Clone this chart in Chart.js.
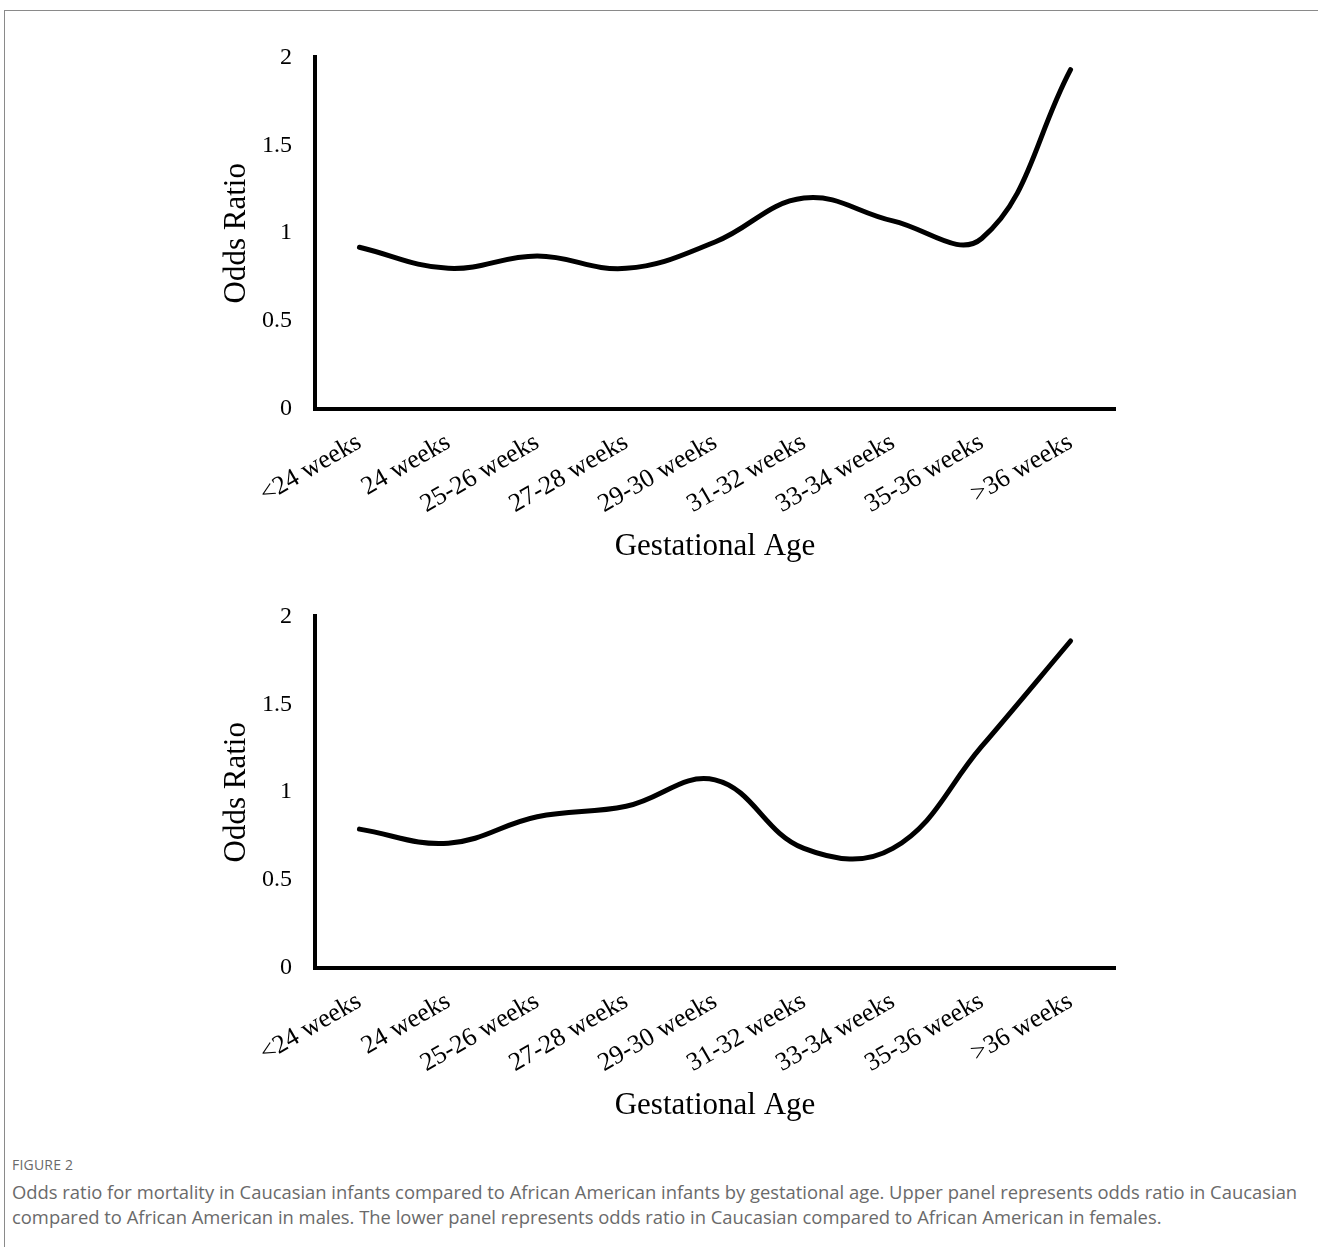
<!DOCTYPE html>
<html>
<head>
<meta charset="utf-8">
<script src="https://cdn.jsdelivr.net/npm/chart.js@4.4.1/dist/chart.umd.min.js"></script>
<style>
  body { margin: 0; background: #fff; width: 1318px; height: 1247px; overflow: hidden; position: relative; }
  .frame { position: absolute; left: 4px; top: 10px; width: 1330px; height: 1260px; border: 1px solid #8a8a8a; box-sizing: border-box; }
  .panel { position: absolute; left: 0; width: 1318px; height: 545px; }
  #top { top: 20px; }
  #bottom { top: 579px; }
  .caption { position: absolute; left: 12px; top: 1155px; font-family: "Open Sans", sans-serif; color: #6a6a6a; white-space: nowrap; }
  .caption .fig { font-size: 14px; letter-spacing: 0.2px; margin-bottom: 5px; }
  .caption .txt { font-size: 18.4px; line-height: 25px; }
</style>
</head>
<body>
<div class="frame"></div>
<div class="panel" id="top"><canvas id="maleChart"></canvas></div>
<div class="panel" id="bottom"><canvas id="femaleChart"></canvas></div>
<div class="caption">
  <div class="fig">FIGURE 2</div>
  <div class="txt">Odds ratio for mortality in Caucasian infants compared to African American infants by gestational age. Upper panel represents odds ratio in Caucasian<br>compared to African American in males. The lower panel represents odds ratio in Caucasian compared to African American in females.</div>
</div>
<script>
const ageGroups = ['<24 weeks', '24 weeks', '25-26 weeks', '27-28 weeks', '29-30 weeks', '31-32 weeks', '33-34 weeks', '35-36 weeks', '>36 weeks']
const maleOdds = [0.92, 0.80, 0.87, 0.80, 0.95, 1.20, 1.07, 0.97, 1.93]
const femaleOdds = [0.79, 0.71, 0.86, 0.92, 1.07, 0.68, 0.68, 1.26, 1.86]
const yTickValues = [0, 0.5, 1, 1.5, 2]

const serif = '"Liberation Serif", "Times New Roman", serif'

function makeChart (id, values) {
  const ctx = document.getElementById(id).getContext('2d')
  return new Chart(ctx, {
    type: 'line',
    data: {
      labels: ageGroups,
      datasets: [{
        data: values,
        borderColor: '#000',
        borderWidth: 5,
        borderCapStyle: 'round',
        pointRadius: 0,
        tension: 0.4,
        fill: false
      }]
    },
    options: {
      responsive: true,
      maintainAspectRatio: false,
      animation: false,
      layout: { padding: { top: 35, right: 203, bottom: 0, left: 0 } },
      plugins: { legend: { display: false }, tooltip: { enabled: false } },
      scales: {
        x: {
          offset: true,
          grid: { display: false, drawTicks: false },
          border: { display: true, color: '#000', width: 4 },
          ticks: {
            color: '#000',
            font: { family: serif, size: 26 },
            minRotation: 30,
            maxRotation: 30,
            padding: 18,
            autoSkip: false
          },
          title: {
            display: true,
            text: 'Gestational Age',
            color: '#000',
            font: { family: serif, size: 31 },
            padding: { top: 0, bottom: 0 }
          },
          afterFit: (scale) => { scale.height = 156 }
        },
        y: {
          min: 0,
          max: 2,
          grid: { display: false, drawTicks: false },
          border: { display: true, color: '#000', width: 4 },
          afterBuildTicks: (scale) => { scale.ticks = yTickValues.map(v => ({ value: v })) },
          ticks: {
            color: '#000',
            font: { family: serif, size: 24 },
            padding: 23,
            callback: (v) => String(v)
          },
          title: {
            display: true,
            text: 'Odds Ratio',
            color: '#000',
            font: { family: serif, size: 31 },
            padding: { top: 218, bottom: 0 }
          },
          afterFit: (scale) => { scale.width = 315 }
        }
      }
    }
  })
}

makeChart('maleChart', maleOdds)
makeChart('femaleChart', femaleOdds)
</script>
</body>
</html>
